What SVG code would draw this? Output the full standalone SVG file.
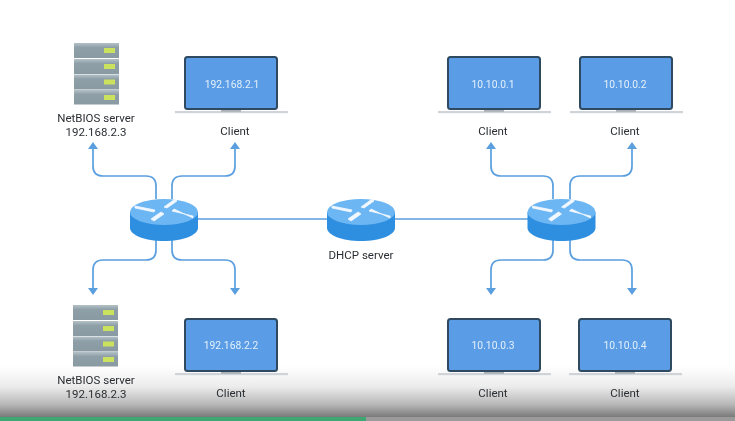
<svg xmlns="http://www.w3.org/2000/svg" xmlns:xlink="http://www.w3.org/1999/xlink" width="735" height="421" viewBox="0 0 735 421">
<style>
text{font-family:"Roboto","Liberation Sans",sans-serif;font-size:11.5px;fill:#2b2f33;text-anchor:middle}
.ip{fill:#e4f0fb;font-size:10.300px}
.c{fill:none;stroke:#5b9fdf;stroke-width:1.7}
.h{fill:#5b9fdf}
</style>
<defs>
<linearGradient id="fade" x1="0" y1="0" x2="0" y2="1"><stop offset="0" stop-color="#fff"/><stop offset="0.4" stop-color="#ececec"/><stop offset="0.75" stop-color="#b8b8b8"/><stop offset="1" stop-color="#7a7a7a"/></linearGradient>
<linearGradient id="row" x1="0" y1="0" x2="0" y2="1"><stop offset="0" stop-color="#b4c1c7"/><stop offset="0.3" stop-color="#8f9fa8"/><stop offset="1" stop-color="#8a9aa3"/></linearGradient>
<filter id="soft" x="-2%" y="-2%" width="104%" height="104%"><feGaussianBlur stdDeviation="0.35"/></filter>
<g id="laptop">
<rect x="1" y="1" width="92" height="52" rx="2.5" fill="#5a9de6" stroke="#2f4a60" stroke-width="2"/>
<rect x="-9" y="55" width="113" height="2.2" fill="#d0d4d8"/>
<rect x="37" y="54" width="20" height="1.8" fill="#aab2b8"/>
</g>
<g id="server">
<rect x="0" y="0" width="45" height="15" fill="url(#row)"/><rect x="30" y="5" width="11" height="5" fill="#cbe25e"/>
<rect x="0" y="16" width="45" height="15" fill="url(#row)"/><rect x="30" y="21" width="11" height="5" fill="#cbe25e"/>
<rect x="0" y="31.500" width="45" height="15" fill="url(#row)"/><rect x="30" y="36.500" width="11" height="5" fill="#cbe25e"/>
<rect x="0" y="47" width="45" height="14.500" fill="url(#row)"/><rect x="30" y="52" width="11" height="5" fill="#cbe25e"/>
</g>
<g id="router">
<path d="M-34 -7V9C-34 16-19 22 0 22S34 16 34 9V-7Z" fill="#2f8fe0"/>
<ellipse cx="0" cy="-7" rx="34" ry="13" fill="#6cb6f3"/>
<path d="M-29 -13 L-9 -9 L-10 -7 L-29 -11ZM29 -3 L8 -8 L10 -10 L29 -1ZM13 -18 L3 -11 L0 -12 L11 -20ZM-13 0 L-3 -7 L0 -5 L-10 2Z" fill="#f2f8ff" stroke="#f2f8ff" stroke-width="0.8"/>
</g>
</defs>
<rect width="735" height="421" fill="#fff"/>
<rect x="0" y="366" width="735" height="51" fill="url(#fade)"/>
<g id="diagram" filter="url(#soft)">
<g id="connectors">
<path class="c" d="M198 219H327M394 219H528"/>
<path class="c" d="M156 199V186Q156 176 146 176H103Q93 176 93 166V148"/>
<path class="c" d="M172 199V186Q172 176 182 176H225Q235 176 235 166V148"/>
<path class="c" d="M156 240V250Q156 260 146 260H103Q93 260 93 270V288"/>
<path class="c" d="M172 240V250Q172 260 182 260H225Q235 260 235 270V288"/>
<path class="c" d="M553 199V186Q553 176 543 176H501Q491 176 491 166V148"/>
<path class="c" d="M570 199V186Q570 176 580 176H622Q632 176 632 166V148"/>
<path class="c" d="M553 240V250Q553 260 543 260H501Q491 260 491 270V288"/>
<path class="c" d="M570 240V250Q570 260 580 260H622Q632 260 632 270V288"/>
<path class="h" d="M93 142l-5 7h10ZM235 142l-5 7h10ZM491 142l-5 7h10ZM632 142l-5 7h10ZM93 295l-5-7h10ZM235 295l-5-7h10ZM491 295l-5-7h10ZM632 295l-5-7h10Z"/>
</g>
<g id="server-top"><use xlink:href="#server" x="74" y="43"/><text x="96" y="122">NetBIOS server</text><text x="96" y="136">192.168.2.3</text></g>
<g id="server-bottom"><use xlink:href="#server" x="73" y="305"/><text x="96" y="384">NetBIOS server</text><text x="96" y="398">192.168.2.3</text></g>
<g id="client-1"><use xlink:href="#laptop" x="184" y="56"/><text class="ip" x="232" y="88">192.168.2.1</text><text x="235" y="135">Client</text></g>
<g id="client-2"><use xlink:href="#laptop" x="184" y="318"/><text class="ip" x="231" y="349">192.168.2.2</text><text x="231" y="397">Client</text></g>
<g id="client-3"><use xlink:href="#laptop" x="447" y="56"/><text class="ip" x="493" y="88">10.10.0.1</text><text x="493" y="135">Client</text></g>
<g id="client-4"><use xlink:href="#laptop" x="579" y="56"/><text class="ip" x="625" y="88">10.10.0.2</text><text x="625" y="135">Client</text></g>
<g id="client-5"><use xlink:href="#laptop" x="447" y="318"/><text class="ip" x="493" y="349">10.10.0.3</text><text x="493" y="397">Client</text></g>
<g id="client-6"><use xlink:href="#laptop" x="578" y="318"/><text class="ip" x="625" y="349">10.10.0.4</text><text x="625" y="397">Client</text></g>
<g id="router-left"><use xlink:href="#router" x="164" y="219"/></g>
<g id="router-dhcp"><use xlink:href="#router" x="361" y="219"/><text x="361" y="259">DHCP server</text></g>
<g id="router-right"><use xlink:href="#router" x="561.500" y="219"/></g>
</g>
<rect x="0" y="417" width="735" height="4" fill="#9a9a9a"/>
<rect x="0" y="417" width="366" height="4" fill="#3fa772"/>
</svg>
